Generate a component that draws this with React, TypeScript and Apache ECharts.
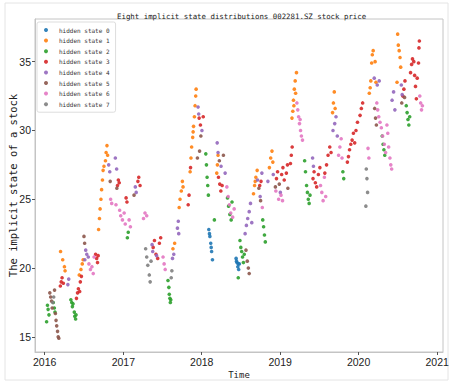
import React, { useEffect, useRef } from "react";
import * as echarts from "echarts";

const STATE_NAMES = [
  "hidden state 0", "hidden state 1", "hidden state 2", "hidden state 3",
  "hidden state 4", "hidden state 5", "hidden state 6", "hidden state 7",
];
const X_TICK_YEARS = [2016, 2017, 2018, 2019, 2020, 2021];
const Y_TICKS = [15, 20, 25, 30, 35];

const state0: [string, number][] = [
  ["2018-02-03",22.8],["2018-02-06",22.5],["2018-02-08",22.3],["2018-02-12",21.8],["2018-02-14",21.5],["2018-02-16",21.2],["2018-02-20",20.6],
  ["2018-06-10",20.7],["2018-06-12",20.5],["2018-06-14",20.4],["2018-06-18",20.1],["2018-06-20",20.3],["2018-06-22",19.9],["2018-06-25",20.3],
];
const state1: [string, number][] = [
  ["2016-03-15",21.2],["2016-03-25",20.6],["2016-04-02",20.1],["2016-04-05",19.8],
  ["2016-06-10",19.5],["2016-06-18",19.9],["2016-06-24",20.3],["2016-06-28",20.6],
  ["2016-09-08",22.8],["2016-09-12",23.6],["2016-09-15",24.3],["2016-09-19",25.0],["2016-09-22",25.7],["2016-09-26",26.4],["2016-09-29",27.1],["2016-10-03",27.4],["2016-10-10",27.8],["2016-10-13",28.4],["2016-10-17",28.9],["2016-10-20",28.2],
  ["2017-08-20",21.4],["2017-08-28",21.8],["2017-09-18",24.4],["2017-09-22",25.0],["2017-09-28",25.6],["2017-10-03",26.3],["2017-10-06",25.9],
  ["2017-11-08",27.0],["2017-11-12",28.0],["2017-11-15",28.8],["2017-11-20",29.5],["2017-11-22",29.9],["2017-11-24",30.3],["2017-11-28",31.0],["2017-12-01",31.8],["2017-12-04",32.5],["2017-12-06",33.0],
  ["2018-03-12",26.9],["2018-03-15",27.5],["2018-03-18",28.2],
  ["2018-08-30",25.4],["2018-09-04",26.0],["2018-09-07",26.3],["2018-09-10",26.6],["2018-09-16",27.1],
  ["2018-11-12",27.3],["2018-11-18",28.0],["2018-11-24",28.5],["2018-11-28",27.7],
  ["2019-02-25",30.9],["2019-03-01",31.4],["2019-03-04",32.2],["2019-03-06",31.8],["2019-03-08",33.0],["2019-03-12",33.6],["2019-03-14",32.7],["2019-03-18",34.2],
  ["2019-09-02",31.3],["2019-09-06",32.0],["2019-09-10",32.8],["2019-09-14",31.6],
  ["2020-02-20",32.7],["2020-02-24",33.1],["2020-02-27",33.6],["2020-03-02",34.9],["2020-03-05",35.5],["2020-03-09",35.8],["2020-03-18",35.0],["2020-03-22",33.5],
  ["2020-06-28",33.5],["2020-07-01",37.0],["2020-07-04",36.2],["2020-07-08",35.8],["2020-07-12",35.3],["2020-07-15",34.6],
];
const state2: [string, number][] = [
  ["2016-01-10",16.1],["2016-01-14",17.3],["2016-01-17",17.0],["2016-01-21",16.6],["2016-02-10",17.5],["2016-02-15",17.1],["2016-02-18",16.8],
  ["2016-05-02",17.7],["2016-05-06",17.5],["2016-05-09",17.2],["2016-05-12",17.4],["2016-05-18",16.8],["2016-05-20",16.5],["2016-05-24",16.3],["2016-05-26",16.6],
  ["2017-01-20",22.2],["2017-01-24",22.6],
  ["2017-07-28",19.1],["2017-08-01",18.6],["2017-08-03",18.1],["2017-08-06",17.8],["2017-08-08",17.5],["2017-08-10",17.7],
  ["2018-01-20",28.3],["2018-01-23",27.5],["2018-01-26",26.6],["2018-01-29",26.0],["2018-02-01",25.3],
  ["2018-03-01",23.5],
  ["2018-05-01",25.1],["2018-05-06",24.5],["2018-05-12",23.9],["2018-05-18",23.5],["2018-05-22",24.8],
  ["2018-06-20",19.3],["2018-06-28",22.0],["2018-07-02",21.5],["2018-07-06",21.2],["2018-07-10",20.8],["2018-07-14",20.4],["2018-07-18",21.0],
  ["2018-10-12",23.5],["2018-10-16",23.0],["2018-10-20",22.4],["2018-10-24",21.9],
  ["2019-04-25",27.8],["2019-04-29",27.0],["2019-05-04",26.0],["2019-05-08",25.5],["2019-05-12",25.0],["2019-05-16",24.7],["2019-05-20",25.3],
  ["2019-10-20",27.0],["2019-10-24",26.5],
  ["2020-04-20",29.6],["2020-04-24",29.0],["2020-04-28",28.6],["2020-05-02",28.2],
  ["2020-08-10",31.8],["2020-08-14",31.3],["2020-08-18",30.8],["2020-08-22",30.4],["2020-08-26",31.0],
];
const state3: [string, number][] = [
  ["2016-03-14",18.7],["2016-03-18",19.0],["2016-03-22",19.3],["2016-03-28",18.9],
  ["2016-05-28",17.8],["2016-06-02",18.2],["2016-06-06",18.5],["2016-06-12",18.3],["2016-06-15",19.0],["2016-06-20",19.4],
  ["2016-08-25",21.0],["2016-08-30",20.7],["2016-09-03",20.4],["2016-09-06",20.9],
  ["2016-12-05",26.0],["2016-12-09",26.4],["2016-12-13",26.2],
  ["2017-01-14",25.1],["2017-01-18",24.8],
  ["2017-03-10",26.3],["2017-03-14",26.6],["2017-03-20",26.0],
  ["2017-05-20",21.5],["2017-05-26",22.0],["2017-06-02",21.0],["2017-06-10",20.7],["2017-06-18",21.8],["2017-06-24",22.2],
  ["2017-10-30",24.6],["2017-11-03",25.3],["2017-11-10",27.3],
  ["2017-12-20",30.9],["2017-12-26",30.4],["2018-01-08",31.0],
  ["2018-03-20",26.6],["2018-03-26",26.1],["2018-03-31",25.6],["2018-04-06",26.0],
  ["2018-09-28",26.0],["2018-10-04",26.3],
  ["2018-12-15",26.5],["2018-12-20",27.0],["2019-01-08",26.8],["2019-01-14",27.3],["2019-01-20",26.4],["2019-01-30",26.9],["2019-02-04",27.5],
  ["2019-02-18",27.6],["2019-02-22",28.2],["2019-02-26",28.8],
  ["2019-06-03",26.5],["2019-06-08",27.0],["2019-06-14",26.2],["2019-06-20",25.9],["2019-06-28",26.8],["2019-07-05",27.3],
  ["2019-07-28",26.9],["2019-08-05",27.5],["2019-08-12",28.2],["2019-08-20",28.8],["2019-08-26",28.4],
  ["2019-11-10",27.7],["2019-11-15",28.1],["2019-11-20",28.6],["2019-11-26",29.0],["2019-12-02",29.3],["2019-12-08",29.8],["2019-12-14",29.1],["2019-12-20",30.0],["2019-12-27",30.6],
  ["2020-01-08",31.1],["2020-01-14",31.6],["2020-01-20",32.0],
  ["2020-07-25",32.5],["2020-07-30",33.0],["2020-08-04",33.6],["2020-08-30",34.2],["2020-09-04",34.8],["2020-09-08",35.2],["2020-09-14",35.0],["2020-09-18",34.0],["2020-09-22",33.2],["2020-09-26",32.3],["2020-09-30",33.8],["2020-10-06",34.9],["2020-10-08",36.0],["2020-10-10",36.5],
];
const state4: [string, number][] = [
  ["2016-04-18",18.8],["2016-04-22",19.2],
  ["2016-07-06",20.6],["2016-07-10",21.3],["2016-07-15",21.0],["2016-07-22",20.8],
  ["2016-10-25",27.5],["2016-10-30",27.0],["2016-11-25",28.0],["2016-12-01",27.2],
  ["2017-02-26",25.9],["2017-03-02",25.5],
  ["2017-05-15",21.7],["2017-05-18",21.2],["2017-06-05",20.9],
  ["2017-08-18",20.7],["2017-08-24",21.0],
  ["2017-09-10",22.9],["2017-09-14",23.4],["2017-09-16",22.5],
  ["2017-12-15",31.7],["2017-12-18",31.2],["2018-01-02",30.0],
  ["2018-03-14",29.1],["2018-03-18",28.4],["2018-04-01",27.4],["2018-04-20",26.9],
  ["2018-07-22",22.5],["2018-07-28",23.1],["2018-08-03",23.6],["2018-08-10",24.1],["2018-08-16",24.7],["2018-08-22",23.3],
  ["2018-09-18",26.4],["2018-09-30",25.2],["2018-10-08",26.9],
  ["2018-11-05",26.3],["2018-11-30",26.8],["2019-01-02",25.5],
  ["2019-06-01",28.0],["2019-06-05",27.4],
  ["2019-09-04",30.0],["2019-09-12",30.5],["2019-09-18",31.0],["2019-09-24",29.6],
  ["2020-03-14",33.8],["2020-03-28",33.3],["2020-04-06",33.6],
  ["2020-06-05",32.2],["2020-06-12",32.8],["2020-06-18",31.5],["2020-07-18",33.3],["2020-07-22",32.6],
];
const state5: [string, number][] = [
  ["2016-01-25",18.2],["2016-01-29",17.9],["2016-02-02",17.6],["2016-02-05",17.1],["2016-02-16",18.4],["2016-02-20",16.7],["2016-02-23",16.2],["2016-02-26",15.8],["2016-03-01",15.4],["2016-03-04",15.0],["2016-03-07",14.9],
  ["2016-07-02",22.3],["2016-07-05",21.8],
  ["2016-11-01",26.3],["2016-12-02",25.8],
  ["2017-02-20",25.3],
  ["2017-12-12",28.0],["2017-12-22",28.5],["2017-12-28",29.6],
  ["2018-03-24",27.8],["2018-04-12",28.2],
  ["2018-07-26",21.3],["2018-08-01",20.5],["2018-08-06",20.0],["2018-08-10",19.6],
  ["2018-09-24",25.8],["2018-10-02",24.9],
  ["2018-12-10",25.9],["2018-12-28",26.1],["2019-02-06",25.8],
  ["2020-03-16",31.6],["2020-03-20",30.9],["2020-03-24",30.4],
  ["2020-07-20",32.0],["2020-08-02",32.4],
];
const state6: [string, number][] = [
  ["2016-07-25",20.3],["2016-08-01",19.9],["2016-08-08",20.1],["2016-08-14",19.6],["2016-08-18",20.8],
  ["2016-11-03",25.0],["2016-11-08",24.7],["2016-11-28",24.6],["2016-12-15",24.2],["2016-12-20",23.8],["2016-12-28",23.5],["2017-01-05",24.0],
  ["2017-01-10",23.2],["2017-01-28",23.5],["2017-02-03",23.0],
  ["2017-04-05",23.6],["2017-04-12",24.0],["2017-04-20",23.8],
  ["2017-07-05",20.8],["2017-07-10",20.3],["2017-07-15",19.9],
  ["2018-04-28",25.9],["2018-05-04",25.2],["2018-05-10",24.6],["2018-05-16",24.0],["2018-05-25",23.7],["2018-06-01",24.3],
  ["2018-10-10",24.4],
  ["2018-12-12",25.6],["2018-12-25",25.0],["2019-01-05",25.3],["2019-01-12",24.9],
  ["2019-03-20",32.0],["2019-03-24",31.5],["2019-03-28",31.0],["2019-04-01",30.5],["2019-04-04",30.8],["2019-04-06",30.0],["2019-04-10",29.6],["2019-04-15",29.3],
  ["2019-07-08",26.0],["2019-07-14",25.5],["2019-07-20",24.9],["2019-07-26",26.6],["2019-08-01",25.2],
  ["2019-09-30",28.2],["2019-10-06",28.8],["2019-10-12",29.4],["2019-10-16",28.0],
  ["2020-02-14",28.7],["2020-02-18",28.0],
  ["2020-03-26",32.0],["2020-03-30",31.5],["2020-04-04",31.0],["2020-04-10",30.6],["2020-04-16",30.2],["2020-04-22",29.6],["2020-04-30",29.0],["2020-05-06",28.4],["2020-05-12",30.4],["2020-05-16",29.8],["2020-05-20",28.8],["2020-05-26",28.0],["2020-05-30",27.5],["2020-06-03",27.2],
  ["2020-10-12",32.5],["2020-10-16",32.0],["2020-10-20",31.5],["2020-10-24",31.8],
];
const state7: [string, number][] = [
  ["2016-02-08",17.5],["2016-02-12",17.9],
  ["2017-04-15",21.4],["2017-04-20",20.8],["2017-04-25",20.2],["2017-05-02",19.5],["2017-05-06",19.0],["2017-05-10",20.5],
  ["2017-08-12",19.3],["2017-08-15",19.8],
  ["2020-02-04",24.5],["2020-02-06",27.2],["2020-02-09",26.5],["2020-02-12",25.5],
];

const STATES = [state0, state1, state2, state3, state4, state5, state6, state7];
const COLORS = ["#1f77b4", "#ff7f0e", "#2ca02c", "#d62728", "#9467bd", "#8c564b", "#e377c2", "#7f7f7f"];

const toTime = (s: string) => {
  const [y, m, d] = s.split("-").map(Number);
  return new Date(y, m - 1, d).getTime();
};

export default function App() {
  const ref = useRef<HTMLDivElement>(null);
  useEffect(() => {
    if (!ref.current) return;
    const chart = echarts.init(ref.current, undefined, { renderer: "svg" });
    const yearTicks = X_TICK_YEARS.map((y) => new Date(y, 0, 1).getTime());
    chart.setOption({
      animation: false,
      backgroundColor: "#ffffff",
      color: COLORS,
      title: {
        text: "Eight implicit state distributions 002281.SZ stock price",
        left: 112,
        top: 8,
        textStyle: { fontFamily: "DejaVu Sans Mono", fontSize: 7.4, fontWeight: "normal", color: "#222" },
      },
      legend: {
        orient: "vertical",
        left: 37,
        top: 22,
        padding: [4, 6, 4, 7],
        itemGap: 2.6,
        itemWidth: 8,
        itemHeight: 4,
        icon: "circle",
        borderColor: "#dddddd",
        borderWidth: 1,
        borderRadius: 2,
        backgroundColor: "#ffffff",
        textStyle: { fontFamily: "DejaVu Sans Mono", fontSize: 6, color: "#333", lineHeight: 8, padding: [0, 0, 0, 4] },
        data: STATE_NAMES,
      },
      grid: {
        left: 35, right: 7, top: 19, bottom: 30,
        outerBoundsMode: "none",
        containLabel: false,
        show: true, borderColor: "#c4c4c4", borderWidth: 1,
      },
      xAxis: {
        type: "value",
        min: new Date(2015, 10, 17).getTime(),
        max: new Date(2021, 0, 28).getTime(),
        name: "Time",
        nameLocation: "middle",
        nameGap: 18,
        nameMoveOverlap: false,
        nameTextStyle: { fontFamily: "DejaVu Sans Mono", fontSize: 9, color: "#222" },
        axisLine: { show: true, lineStyle: { color: "#c4c4c4" } },
        axisTick: { show: true, length: 3, lineStyle: { color: "#555" }, customValues: yearTicks },
        axisLabel: {
          customValues: yearTicks,
          margin: 4,
          fontFamily: "Liberation Sans",
          fontSize: 10.5,
          color: "#222",
          formatter: (v: number) => String(new Date(v).getFullYear()),
        },
        splitLine: { show: false },
      },
      yAxis: {
        type: "value",
        min: 13.9,
        max: 38.1,
        name: "The implicit state of a stock",
        nameLocation: "middle",
        nameGap: 17,
        nameMoveOverlap: false,
        nameTextStyle: { fontFamily: "DejaVu Sans Mono", fontSize: 10.5, color: "#222" },
        axisLine: { show: true, lineStyle: { color: "#c4c4c4" } },
        axisTick: { show: true, length: 3, lineStyle: { color: "#555" }, customValues: Y_TICKS },
        axisLabel: {
          customValues: Y_TICKS,
          margin: 4,
          fontFamily: "Liberation Sans",
          fontSize: 10.5,
          color: "#222",
        },
        splitLine: { show: false },
      },
      graphic: [
        {
          type: "rect",
          shape: { x: 5, y: 3, width: 443, height: 377 },
          style: { fill: "none", stroke: "#e4e4e4", lineWidth: 1 },
          silent: true,
        },
      ],
      series: STATES.map((d, i) => ({
        name: STATE_NAMES[i],
        type: "scatter",
        data: d.map(([t, v]) => [toTime(t), v]),
        symbolSize: 3.6,
        itemStyle: { color: COLORS[i], opacity: 0.9 },
      })),
    });
    return () => chart.dispose();
  }, []);
  return <div ref={ref} style={{ position: "fixed", left: 0, top: 0, width: 450, height: 382 }} />;
}
